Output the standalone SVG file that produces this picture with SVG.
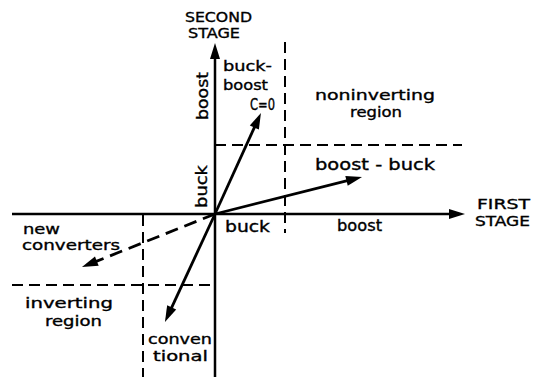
<svg xmlns="http://www.w3.org/2000/svg" width="538" height="377" viewBox="0 0 538 377">
<style>
.ax{stroke:#000;stroke-width:2.5;fill:none}
.vec{stroke:#000;stroke-width:2.8;fill:none}
.dash{stroke:#000;stroke-width:2;fill:none;stroke-dasharray:11 6}
.vdash{stroke:#000;stroke-width:2.8;fill:none;stroke-dasharray:13 7}
text{font-family:"DejaVu Sans","Liberation Sans",sans-serif;font-size:15px;fill:#000;stroke:#000;stroke-width:0.35}
.cap{font-size:14px}
.sm{font-size:14px}
.c0{font-size:15px}
</style>
<defs>
<marker id="ah" markerUnits="userSpaceOnUse" markerWidth="16" markerHeight="10" refX="4" refY="5" orient="auto" overflow="visible">
<path d="M0,0 L16,5 L0,10 z" fill="#000"/>
</marker>
</defs>
<rect width="538" height="377" fill="#fff"/>
<g id="connectors">
<line id="x-axis" class="ax" x1="12" y1="214" x2="453" y2="214" marker-end="url(#ah)"/>
<line id="y-axis" class="ax" x1="215" y1="377" x2="215" y2="55" marker-end="url(#ah)"/>
<line class="dash" x1="285" y1="42" x2="285" y2="233"/>
<line class="dash" x1="215" y1="145" x2="462" y2="145"/>
<line class="dash" x1="143" y1="215" x2="143" y2="377"/>
<line class="dash" x1="12" y1="285" x2="215" y2="285"/>
<line id="v-boostbuck" class="vec" x1="215" y1="214" x2="350.4" y2="179.9" marker-end="url(#ah)"/>
<line id="v-buckboost" class="vec" x1="215" y1="214" x2="256" y2="123.9" marker-end="url(#ah)"/>
<line id="v-conventional" class="vec" x1="215" y1="214" x2="170" y2="311.1" marker-end="url(#ah)"/>
<line id="v-new" class="vdash" x1="215" y1="214" x2="93.1" y2="262.6" marker-end="url(#ah)"/>
</g>
<g id="axis-labels">
<text class="cap" x="185" y="22" textLength="67" lengthAdjust="spacingAndGlyphs">SECOND</text>
<text class="cap" x="188" y="38" textLength="52" lengthAdjust="spacingAndGlyphs">STAGE</text>
<text class="cap" x="477" y="209" textLength="53" lengthAdjust="spacingAndGlyphs">FIRST</text>
<text class="cap" x="475" y="226" textLength="55" lengthAdjust="spacingAndGlyphs">STAGE</text>
<text transform="translate(208,120) rotate(-90)" x="0" y="0" textLength="48" lengthAdjust="spacingAndGlyphs">boost</text>
<text transform="translate(207,208) rotate(-90)" x="0" y="0" textLength="43" lengthAdjust="spacingAndGlyphs">buck</text>
<text x="225" y="232" textLength="45" lengthAdjust="spacingAndGlyphs">buck</text>
<text x="337" y="231" textLength="45" lengthAdjust="spacingAndGlyphs">boost</text>
</g>
<g id="buck-boost">
<text class="sm" x="223" y="71" textLength="49" lengthAdjust="spacingAndGlyphs">buck-</text>
<text class="sm" x="223" y="90" textLength="45" lengthAdjust="spacingAndGlyphs">boost</text>
<text class="c0" x="250" y="110" textLength="25" lengthAdjust="spacingAndGlyphs">C=0</text>
</g>
<g id="noninverting-region">
<text class="sm" x="315" y="100" textLength="120" lengthAdjust="spacingAndGlyphs">noninverting</text>
<text class="sm" x="350" y="117" textLength="52" lengthAdjust="spacingAndGlyphs">region</text>
</g>
<g id="boost-buck">
<text x="315" y="170" textLength="120" lengthAdjust="spacingAndGlyphs">boost - buck</text>
</g>
<g id="new-converters">
<text class="sm" x="23" y="234" textLength="37" lengthAdjust="spacingAndGlyphs">new</text>
<text class="sm" x="22" y="250" textLength="98" lengthAdjust="spacingAndGlyphs">converters</text>
</g>
<g id="inverting-region">
<text class="sm" x="25" y="308" textLength="88" lengthAdjust="spacingAndGlyphs">inverting</text>
<text class="sm" x="45" y="326" textLength="57" lengthAdjust="spacingAndGlyphs">region</text>
</g>
<g id="conventional">
<text class="sm" x="148" y="344" textLength="64" lengthAdjust="spacingAndGlyphs">conven</text>
<text class="sm" x="153" y="361" textLength="55" lengthAdjust="spacingAndGlyphs">tional</text>
</g>
</svg>
